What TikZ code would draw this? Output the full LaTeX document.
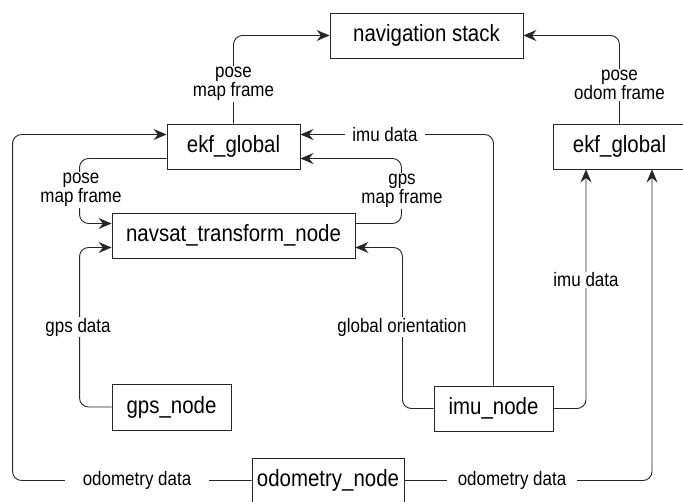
\documentclass[tikz,border=0pt]{standalone}
\usepackage{fontspec}
\setmainfont{Liberation Sans}[FakeStretch=0.87]
\usetikzlibrary{arrows.meta,calc}
\begin{document}
\begin{tikzpicture}[x=1pt,y=-1pt,
  box/.style={draw=black!85, line width=0.9pt, fill=white, inner sep=0pt,
    minimum height=45pt, font=\fontsize{23.5}{26}\selectfont},
  lbl/.style={fill=white, inner xsep=4pt, inner ysep=1pt,
    font=\fontsize{19.5}{18}\selectfont, align=center},
  conn/.style={line width=0.9pt, draw=black!85, rounded corners=9pt},
  arr/.style={conn, -{Stealth[length=13pt,width=11pt,inset=4.5pt]}}]
\useasboundingbox (0,0) rectangle (683,502);

\node[box, minimum width=193pt] (nav) at (426.5,35.5) {navigation stack};
\node[box, minimum width=133pt] (ekfL) at (233.5,146.5) {ekf\_global};
\node[box, minimum width=133pt] (ekfR) at (619.5,146.5) {ekf\_global};
\node[box, minimum width=243pt] (navsat) at (233.5,235.5) {navsat\_transform\_node};
\node[box, minimum width=119pt, minimum height=46pt] (gps) at (171.5,407) {gps\_node};
\node[box, minimum width=119pt] (imu) at (493.5,408.5) {imu\_node};
\node[box, minimum width=152pt] (odom) at (328,480.5) {odometry\_node};

\draw[arr] (ekfL.north) |- (nav.west);
\draw[arr] (ekfR.north) |- (nav.east);
\draw[arr] (odom.west) -| ($(ekfL.west)+(-154,-12)$) -- ($(ekfL.west)+(0,-12)$);
\draw[arr] (imu.north) |- ($(ekfL.east)+(0,-12)$);
\draw[arr] ($(navsat.east)+(0,-12)$) -| ($(ekfL.east)+(101,12)$) -- ($(ekfL.east)+(0,12)$);
\draw[arr] ($(ekfL.west)+(0,12)$) -| ($(navsat.west)+(-32,-12)$) -- ($(navsat.west)+(0,-12)$);
\draw[arr] (gps.west) -| ($(navsat.west)+(-32,12)$) -- ($(navsat.west)+(0,12)$);
\draw[arr] (imu.west) -| ($(navsat.east)+(47,12)$) -- ($(navsat.east)+(0,12)$);
\draw[arr] (imu.east) -| ($(ekfR.south)+(-33.5,0)$);
\draw[arr] (odom.east) -| ($(ekfR.south)+(32.5,0)$);

\node[lbl] (l1) at (233.5,84) {pose\\map frame};
\node[lbl] (l2) at (619.5,85) {pose\\odom frame};
\node[lbl, inner xsep=7pt] (l3) at (385,135) {imu data};
\node[lbl] (l4) at (402,191) {gps\\map frame};
\node[lbl] (l5) at (81,190) {pose\\map frame};
\node[lbl] (l6) at (78,327) {gps data};
\node[lbl] (l7) at (402,327) {global orientation};
\node[lbl] (l8) at (586,280) {imu data};
\node[lbl, inner xsep=18pt] (l9) at (137,480) {odometry data};
\node[lbl, inner xsep=11pt] (l10) at (512,480) {odometry data};
\end{tikzpicture}
\end{document}
